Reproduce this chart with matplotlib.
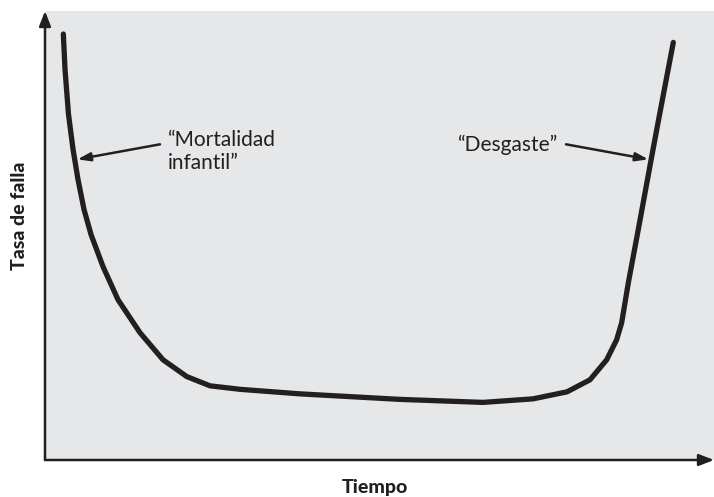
import numpy as np
import matplotlib.pyplot as plt

# bathtub curve (arbitrary units, 0-100 on both axes)
tiempo = [2.74, 2.99, 3.51, 4.19, 4.93, 5.83, 6.88, 8.67, 10.91, 14.20, 17.64, 21.18,
          24.66, 29.15, 38.12, 53.06, 65.47, 72.95, 78.03, 81.46, 83.96, 85.45, 86.20,
          87.20, 88.60, 89.51, 90.61, 91.73, 93.92]
tasa = [94.87, 87.05, 77.01, 69.20, 62.50, 55.80, 50.22, 43.08, 35.71, 28.35, 22.32, 18.59,
        16.52, 15.74, 14.73, 13.50, 12.83, 13.62, 15.18, 17.86, 22.32, 26.79, 30.58,
        39.51, 50.67, 58.04, 66.96, 75.89, 93.01]

etiquetas = ["\u201cMortalidad\ninfantil\u201d", "\u201cDesgaste\u201d"]
titulo_x = 'Tiempo'
titulo_y = 'Tasa de falla'

ink = '#231f20'
plt.rcParams['font.family'] = ['Lato', 'DejaVu Sans']

fig = plt.figure(figsize=(7.14, 4.97), dpi=100)
ax = fig.add_axes([45 / 714, 37 / 497, 669 / 714, 449 / 497])
ax.set_facecolor('#e6e7e8')
ax.set_xlim(0, 100)
ax.set_ylim(0, 100)
for s in ax.spines.values():
    s.set_visible(False)
ax.set_xticks([])
ax.set_yticks([])

ax.plot(tiempo, tasa, color=ink, lw=3.8, solid_capstyle='round', solid_joinstyle='round')

# axis arrows
flecha_eje = dict(arrowstyle='-|>,head_length=0.9,head_width=0.35', color=ink, lw=1.8,
                  shrinkA=0, shrinkB=0)
ax.annotate('', xy=(0, 1.0), xytext=(0, 0), xycoords='axes fraction',
            arrowprops=flecha_eje, annotation_clip=False)
ax.annotate('', xy=(1.0, 0), xytext=(0, 0), xycoords='axes fraction',
            arrowprops=flecha_eje, annotation_clip=False)

# callouts
flecha = dict(arrowstyle='-|>,head_length=0.75,head_width=0.25', color=ink, lw=1.8,
              shrinkA=0, shrinkB=0)
ax.annotate('', xy=(4.86, 66.96), xytext=(17.19, 70.31), arrowprops=flecha)
ax.annotate('', xy=(90.18, 66.96), xytext=(77.88, 70.31), arrowprops=flecha)
ax.text(18.39, 73.4, etiquetas[0], fontsize=15, color=ink, va='top', ha='left',
        linespacing=1.15)
ax.text(76.7, 68.75, etiquetas[1], fontsize=15, color=ink, va='baseline', ha='right')

fig.text(20 / 714, 1 - 216 / 497, titulo_y, rotation=90, ha='center', va='center',
         fontsize=14, fontweight='black', color=ink)
fig.text(375 / 714, 1 - 487 / 497, titulo_x, ha='center', va='center',
         fontsize=14, fontweight='black', color=ink)

fig.savefig('out.png', dpi=100)
